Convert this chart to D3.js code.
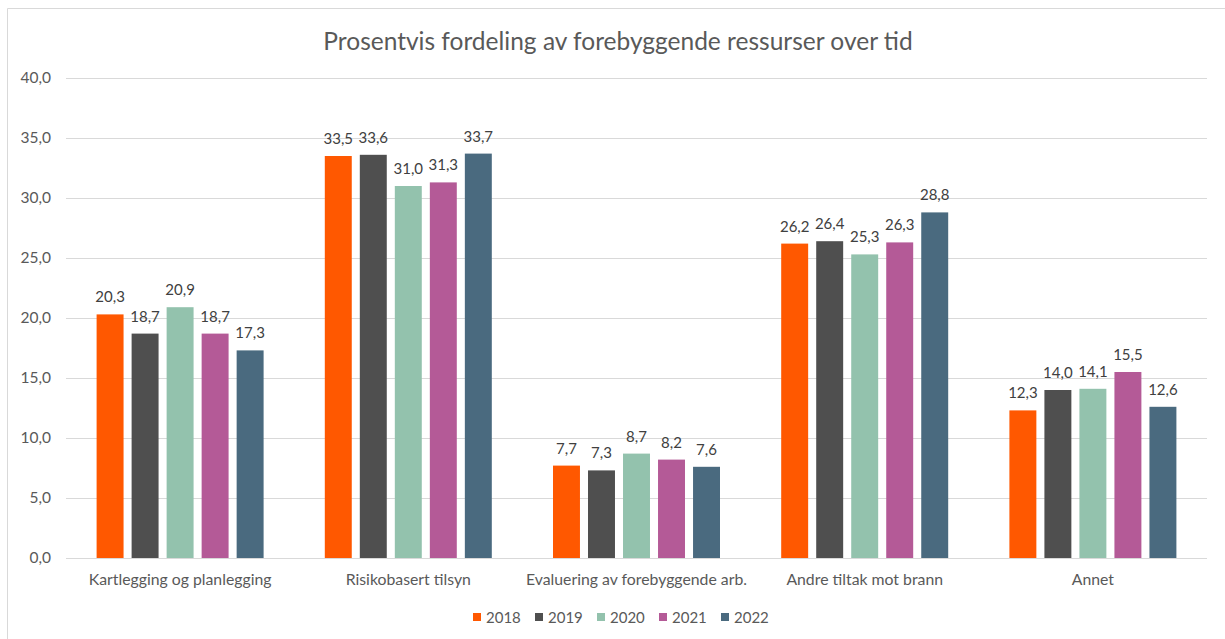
<!DOCTYPE html>
<html><head><meta charset="utf-8">
<script src="https://cdn.jsdelivr.net/npm/d3@7"></script>
<style>
html,body{margin:0;padding:0;background:#fff;}
svg{display:block;font-family:Lato,"Open Sans",sans-serif;}
</style></head><body>
<svg id="c" width="1225" height="639"></svg>
<script>
const categories = ["Kartlegging og planlegging","Risikobasert tilsyn","Evaluering av forebyggende arb.","Andre tiltak mot brann","Annet"];
const years = ["2018","2019","2020","2021","2022"];
const v2018 = [20.3,33.5,7.7,26.2,12.3];
const v2019 = [18.7,33.6,7.3,26.4,14.0];
const v2020 = [20.9,31.0,8.7,25.3,14.1];
const v2021 = [18.7,31.3,8.2,26.3,15.5];
const v2022 = [17.3,33.7,7.6,28.8,12.6];
const yTicks = [0,5,10,15,20,25,30,35,40];
const colors = ["#FF5800","#4F4F4F","#93C2AD","#B45A97","#4A6A7F"];
const title = "Prosentvis fordeling av forebyggende ressurser over tid";

const series = [v2018,v2019,v2020,v2021,v2022];
const svg = d3.select("#c");
const fmt = d => d.toFixed(1).replace(".", ",");

// chart border
svg.append("path").attr("d","M7.5,639 V8.5 H1225").attr("fill","none").attr("stroke","#d9d9d9").attr("stroke-width",1);

const L=66, R=1207, T=78, B=558;
const x0 = d3.scaleBand().domain(categories).range([L,R]).paddingInner(0).paddingOuter(0);
const x1 = d3.scaleBand().domain(years).range([0,167]).paddingInner(0.23).paddingOuter(0);
const y = d3.scaleLinear().domain([0,40]).range([B,T]);

// gridlines
svg.append("g").selectAll("line").data(yTicks).join("line")
  .attr("x1",L).attr("x2",R).attr("y1",d=>Math.round(y(d))+0.5).attr("y2",d=>Math.round(y(d))+0.5)
  .attr("stroke","#d9d9d9").attr("stroke-width",1);

// y axis labels
const yAxis = d3.axisLeft(y).tickValues(yTicks).tickFormat(fmt).tickSize(0).tickPadding(0);
const ga = svg.append("g").attr("transform",`translate(51,0)`).call(yAxis);
ga.select(".domain").remove();
ga.selectAll("text").attr("font-size",15.5).attr("fill","#595959").attr("font-family","Lato");

// x axis labels
const xAxis = d3.axisBottom(x0).tickSize(0).tickPadding(0);
const gx = svg.append("g").attr("transform",`translate(0,${B+16})`).call(xAxis);
gx.select(".domain").remove();
gx.selectAll("text").attr("font-size",15.8).attr("fill","#595959").attr("font-family","Lato");

// bars
const groups = svg.append("g").selectAll("g").data(categories).join("g")
  .attr("transform",d=>`translate(${x0(d)+x0.bandwidth()/2-83.5},0)`);
groups.each(function(cat,ci){
  const g = d3.select(this);
  years.forEach((yr,si)=>{
    const val = series[si][ci];
    g.append("rect").attr("x",x1(yr)).attr("width",x1.bandwidth())
      .attr("y",y(val)).attr("height",y(0)-y(val)).attr("fill",colors[si]);
    g.append("text").attr("x",x1(yr)+x1.bandwidth()/2).attr("y",y(val)-12)
      .attr("text-anchor","middle").attr("font-size",15).attr("fill","#404040").text(fmt(val));
  });
});

// title
svg.append("text").attr("x",618).attr("y",50).attr("text-anchor","middle")
  .attr("font-size",24.5).attr("fill","#595959").text(title);

// legend
const lg = svg.append("g").selectAll("g").data(years).join("g")
  .attr("transform",(d,i)=>`translate(${473+i*62},0)`);
lg.append("rect").attr("x",0).attr("y",613).attr("width",8).attr("height",8).attr("fill",(d,i)=>colors[i]);
lg.append("text").attr("x",13).attr("y",623).attr("font-size",15).attr("fill","#595959").text(d=>d);
</script>
</body></html>
